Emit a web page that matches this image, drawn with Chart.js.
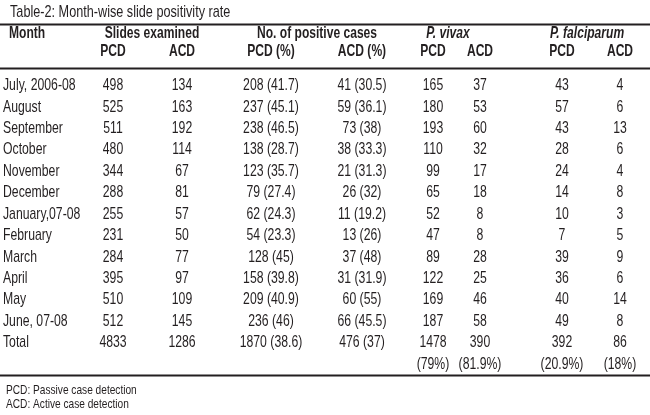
<!DOCTYPE html>
<html>
<head>
<meta charset="utf-8">
<script src="https://cdn.jsdelivr.net/npm/chart.js@4.4.1/dist/chart.umd.min.js"></script>
<style>
  html, body { margin: 0; padding: 0; background: #fff; }
  #wrap { width: 650px; height: 415px; }
</style>
</head>
<body>
<div id="wrap"><canvas id="table"></canvas></div>
<script>
// Table-2 values, one array per column
const months = ['July, 2006-08', 'August', 'September', 'October', 'November', 'December',
    'January,07-08', 'February', 'March', 'April', 'May', 'June, 07-08', 'Total'];
const slidesPcd = [498, 525, 511, 480, 344, 288, 255, 231, 284, 395, 510, 512, 4833];
const slidesAcd = [134, 163, 192, 114, 67, 81, 57, 50, 77, 97, 109, 145, 1286];
const positivePcd = [208, 237, 238, 138, 123, 79, 62, 54, 128, 158, 209, 236, 1870];
const positivePcdRate = [41.7, 45.1, 46.5, 28.7, 35.7, 27.4, 24.3, 23.3, 45, 39.8, 40.9, 46, 38.6];
const positiveAcd = [41, 59, 73, 38, 21, 26, 11, 13, 37, 31, 60, 66, 476];
const positiveAcdRate = [30.5, 36.1, 38, 33.3, 31.3, 32, 19.2, 26, 48, 31.9, 55, 45.5, 37];
const vivaxPcd = [165, 180, 193, 110, 99, 65, 52, 47, 89, 122, 169, 187, 1478];
const vivaxAcd = [37, 53, 60, 32, 17, 18, 8, 8, 28, 25, 46, 58, 390];
const falciparumPcd = [43, 57, 43, 28, 24, 14, 10, 7, 39, 36, 40, 49, 392];
const falciparumAcd = [4, 6, 13, 6, 4, 8, 3, 5, 9, 6, 14, 8, 86];
const totalShares = ['(79%)', '(81.9%)', '(20.9%)', '(18%)'];

const title = 'Table-2: Month-wise slide positivity rate';
const groupHeads = ['Month', 'Slides examined', 'No. of positive cases', 'P. vivax', 'P. falciparum'];
const subHeads = ['PCD', 'ACD', 'PCD (%)', 'ACD (%)', 'PCD', 'ACD', 'PCD', 'ACD'];
const footnotes = ['PCD: Passive case detection', 'ACD: Active case detection'];

// layout: column centres on x scale (0..650), header rows in row units on y scale
const colX = [113, 182, 271, 362, 433, 480, 562, 620];
const groupX = [9, 152, 317, 448, 587];
const FONT = "'Liberation Sans', Arimo, Arial, sans-serif";
const ink = '#231f20';

const withRate = (n, r) => n.map((v, i) => v + ' (' + r[i] + ')');
const columns = [
    slidesPcd.map(String), slidesAcd.map(String),
    withRate(positivePcd, positivePcdRate), withRate(positiveAcd, positiveAcdRate),
    vivaxPcd.map(String), vivaxAcd.map(String),
    falciparumPcd.map(String), falciparumAcd.map(String)
];

const datasets = columns.map((cells, c) => {
    let points = cells.map((_, r) => ({x: colX[c], y: r}));
    let labels = cells.slice();
    if (c >= 4) {
        points.push({x: colX[c], y: months.length});
        labels.push(totalShares[c - 4]);
    }
    return {data: points, cells: labels, pointRadius: 0, showLine: false};
});
// month names as their own column, left aligned
datasets.unshift({
    data: months.map((_, r) => ({x: 3, y: r})),
    cells: months, align: 'left', pointRadius: 0, showLine: false
});

// squeeze the glyphs sideways so they look like a condensed face
function narrowText(ctx, text, px, py, align, squeeze) {
    ctx.save();
    ctx.translate(px, py);
    ctx.scale(squeeze, 1);
    ctx.textAlign = align;
    ctx.fillText(text, 0, 0);
    ctx.restore();
}

const tablePlugin = {
    id: 'tableText',
    afterDatasetsDraw(chart) {
        const ctx = chart.ctx;
        const x = chart.scales.x;
        const y = chart.scales.y;
        ctx.save();
        ctx.fillStyle = ink;
        ctx.strokeStyle = ink;
        ctx.textBaseline = 'middle';

        // cells
        ctx.font = '17px ' + FONT;
        chart.data.datasets.forEach((ds, i) => {
            chart.getDatasetMeta(i).data.forEach((pt, j) => {
                narrowText(ctx, ds.cells[j], pt.x, pt.y + 0.5, ds.align || 'center', 0.72);
            });
        });

        // title
        ctx.font = '17px ' + FONT;
        narrowText(ctx, title, x.getPixelForValue(10), y.getPixelForValue(-3.4), 'left', 0.745);

        // group heads
        groupHeads.forEach((h, i) => {
            let italic = i >= 3 ? 'italic ' : '';
            ctx.font = italic + 'bold 17px ' + FONT;
            narrowText(ctx, h, x.getPixelForValue(groupX[i]), y.getPixelForValue(-2.43),
                i == 0 ? 'left' : 'center', 0.71);
        });

        // sub heads
        ctx.font = 'bold 17px ' + FONT;
        subHeads.forEach((h, i) => {
            narrowText(ctx, h, x.getPixelForValue(colX[i]), y.getPixelForValue(-1.55), 'center', 0.71);
        });

        // rules
        ctx.lineWidth = 2.2;
        [-2.84, -0.79, 13.53].forEach(v => {
            let py = Math.round(y.getPixelForValue(v)) + 0.5;
            ctx.beginPath();
            ctx.moveTo(x.getPixelForValue(0), py);
            ctx.lineTo(x.getPixelForValue(650), py);
            ctx.stroke();
        });

        // footnotes
        ctx.font = '13px ' + FONT;
        footnotes.forEach((f, i) => {
            narrowText(ctx, f, x.getPixelForValue(6), y.getPixelForValue(14.24 + i * 0.65), 'left', 0.78);
        });
        ctx.restore();
    }
};

new Chart(document.getElementById('table'), {
    type: 'scatter',
    data: {datasets: datasets},
    options: {
        responsive: true,
        maintainAspectRatio: false,
        animation: false,
        events: [],
        layout: {padding: {top: 85, bottom: 51.5, left: 0, right: 0}},
        plugins: {legend: {display: false}, tooltip: {enabled: false}},
        scales: {
            x: {type: 'linear', min: 0, max: 650, display: false},
            y: {type: 'linear', min: 0, max: 13, reverse: true, display: false}
        }
    },
    plugins: [tablePlugin]
});
</script>
</body>
</html>
